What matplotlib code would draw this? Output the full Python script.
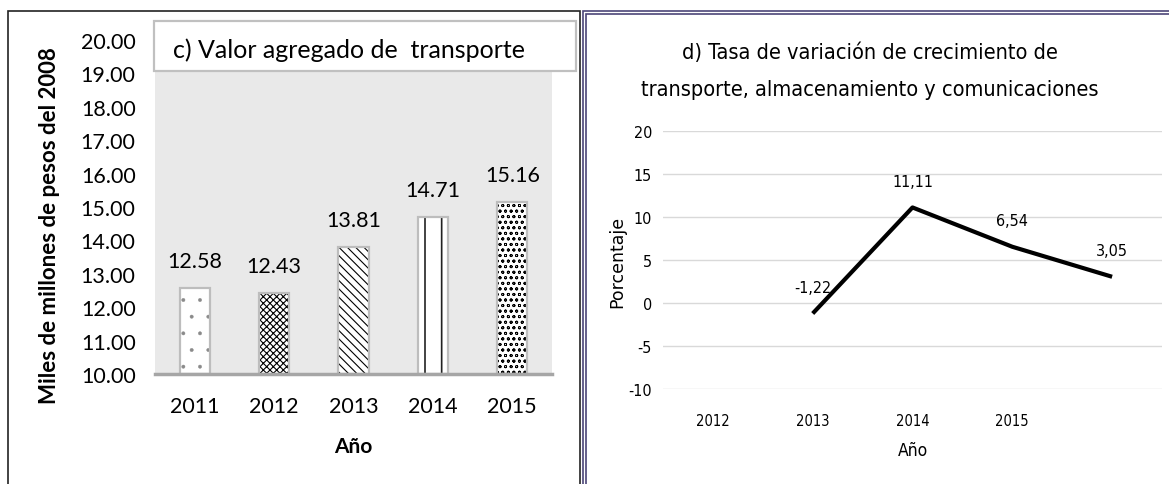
import matplotlib
matplotlib.use("Agg")
import matplotlib.pyplot as plt
from matplotlib.patches import Rectangle
from matplotlib import font_manager
from matplotlib.font_manager import FontProperties
import numpy as np

# Panel c) value added of transport
years_c = ['2011', '2012', '2013', '2014', '2015']
valor = [12.58, 12.43, 13.81, 14.71, 15.16]
hatches = ['.', 'xxxxx', '\\\\\\\\', '|', 'ooo']
hatch_lw = [0.3, 0.8, 0.8, 1.2, 0.6]
hatch_col = ['#8a8a8a', 'black', 'black', '#222222', 'black']

# Panel d) growth rate
years_d = ['2012', '2013', '2014', '2015', '']
tasa = [np.nan, -1.22, 11.11, 6.54, 3.05]

# look for a condensed face for the right panel, else Lato
narrow_fam, narrow_str = 'Lato', 'normal'
for f in font_manager.fontManager.ttflist:
    if f.style == 'normal' and f.weight in (400, 'normal', 'regular') and (
            'Narrow' in f.name or 'Condensed' in f.name or 'condensed' in str(f.stretch)):
        narrow_fam, narrow_str = f.name, f.stretch
        break

def nfp(size):
    return FontProperties(family=narrow_fam, stretch=narrow_str, size=size)

base = 'Lato'

W, H = 1169, 485
fig = plt.figure(figsize=(W / 100, H / 100), dpi=100)

def fx(x):
    return x / W

def fy(y):
    return 1 - y / H

# ---------- left chart ----------
ax1 = fig.add_axes([fx(155), fy(375), fx(552) - fx(155), fy(41) - fy(375)])
ax1.set_facecolor('#e9e9e9')
x = np.arange(len(years_c))
for i, h in enumerate(hatches):
    with plt.rc_context({'hatch.linewidth': hatch_lw[i]}):
        ax1.bar(x[i], valor[i] - 10, bottom=10, width=0.38, color='white',
                edgecolor=hatch_col[i], linewidth=0, hatch=h, zorder=2)
ax1.bar(x, np.array(valor) - 10, bottom=10, width=0.38, fill=False,
        edgecolor='#bdbdbd', linewidth=1.6, zorder=3)
for i, v in enumerate(valor):
    ax1.annotate(f'{v:.2f}', (x[i], v), xytext=(0, 19), textcoords='offset points',
                 ha='center', va='center', fontsize=15.5, family=base)
ax1.axhline(10, color='#a6a6a6', lw=2.5, zorder=4, clip_on=False)
ax1.set_xlim(-0.5, 4.5)
ax1.set_ylim(10, 20)
ax1.set_yticks(np.arange(10, 21, 1))
ax1.set_yticklabels([f'{t:.2f}' for t in range(10, 21)], fontsize=15.5, family=base)
ax1.set_xticks(x)
ax1.set_xticklabels(years_c, fontsize=15.5, family=base)
ax1.tick_params(length=0)
ax1.tick_params(axis='y', pad=14)
ax1.tick_params(axis='x', pad=16)
for s in ax1.spines.values():
    s.set_visible(False)
ax1.set_xlabel('Año', fontsize=15, fontweight='bold', family=base, labelpad=14)
fig.text(fx(50), fy(226), 'Miles de millones de pesos del 2008', rotation=90,
         ha='center', va='center', fontsize=16, fontweight='bold', family=base)

# title box
fig.patches.append(Rectangle((fx(154), fy(72)), fx(576) - fx(154), fy(22) - fy(72),
                             transform=fig.transFigure, facecolor='white',
                             edgecolor='#c0c0c0', lw=1.6, zorder=5))
fig.text(fx(173), fy(50), 'c) Valor agregado de  transporte', ha='left', va='center',
         fontsize=18, family=base, zorder=6)

# ---------- right chart ----------
ax2 = fig.add_axes([fx(663), fy(390), fx(1162) - fx(663), fy(132) - fy(390)])
xd = np.arange(len(years_d))
ax2.plot(xd, tasa, color='black', lw=3, solid_capstyle='butt', zorder=3)
for i, v in enumerate(tasa):
    if np.isnan(v):
        continue
    ax2.annotate(f'{v:.2f}'.replace('.', ','), (xd[i], v), xytext=(0, 19),
                 textcoords='offset points', ha='center', va='center',
                 fontproperties=nfp(11.5))
ax2.set_xlim(-0.5, 4.5)
ax2.set_ylim(-10, 20)
ax2.set_yticks(np.arange(-10, 21, 5))
ax2.set_yticklabels([str(t) for t in range(-10, 21, 5)], fontproperties=nfp(11.5))
ax2.set_xticks(xd)
ax2.set_xticklabels(years_d, fontproperties=nfp(10.5))
ax2.tick_params(length=0)
ax2.tick_params(axis='y', pad=8)
ax2.tick_params(axis='x', pad=17)
ax2.grid(axis='y', color='#d9d9d9', lw=1)
ax2.set_axisbelow(True)
for s in ax2.spines.values():
    s.set_visible(False)
ax2.set_xlabel('Año', fontproperties=nfp(12.5), labelpad=10)
fig.text(fx(617), fy(262), 'Porcentaje', rotation=90, ha='center', va='center',
         fontsize=12.5, family='DejaVu Sans')
fig.text(fx(870), fy(53), 'd) Tasa de variación de crecimiento de', ha='center',
         va='center', fontproperties=nfp(15.6))
fig.text(fx(870), fy(90), 'transporte, almacenamiento y comunicaciones', ha='center',
         va='center', fontproperties=nfp(15.6))

# panel frames
fig.patches.append(Rectangle((fx(8), fy(495)), fx(580) - fx(8), fy(12) - fy(495),
                             transform=fig.transFigure, fill=False,
                             edgecolor='#222222', lw=1.2, zorder=7))
for off in (0, 3):
    fig.patches.append(Rectangle((fx(583 + off), fy(495)), fx(1180) - fx(583 + off),
                                 fy(12 + off) - fy(495), transform=fig.transFigure,
                                 fill=False, edgecolor='#4b4578', lw=1.2, zorder=7))

fig.savefig('out.png', dpi=100)
